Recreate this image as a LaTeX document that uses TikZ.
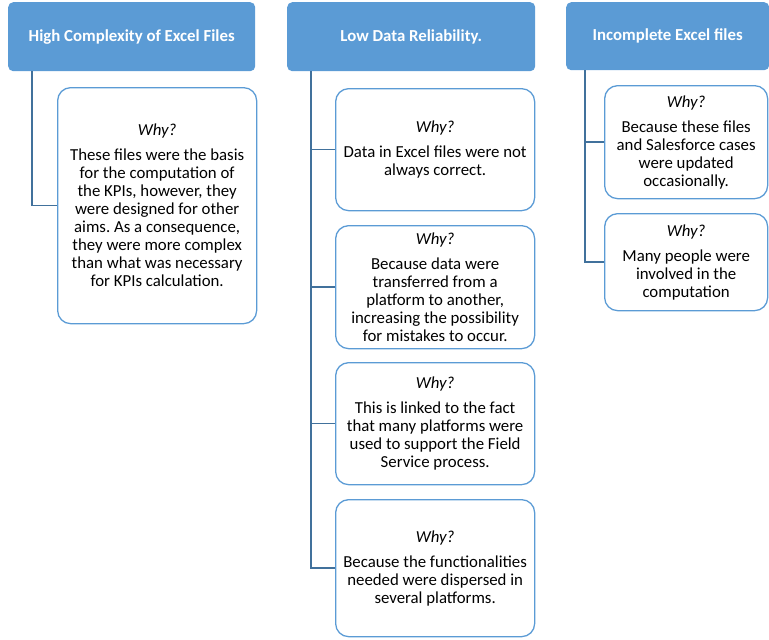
\documentclass[tikz,border=0pt]{standalone}
\usepackage{fontspec}
\setmainfont{Carlito}
\usepackage{tikz}
\usetikzlibrary{positioning}
\frenchspacing

\definecolor{hdrblue}{HTML}{5B9BD5}
\definecolor{linkblue}{HTML}{41719C}

\tikzset{
  header/.style={rectangle, rounded corners=5pt, fill=hdrblue, text=white,
    font=\fontsize{16.8}{18}\selectfont\bfseries, align=center,
    anchor=north west, minimum height=69pt, inner sep=0pt},
  whybox/.style={rectangle, draw=hdrblue, line width=1.3pt, rounded corners=13pt,
    font=\fontsize{16.8}{18}\selectfont, align=center, anchor=north west,
    inner sep=0pt},
  link/.style={draw=linkblue, line width=1.6pt}
}

\newcommand{\why}{\textit{Why?}\\[7pt]}

\begin{document}
\begin{tikzpicture}[x=1pt,y=-1pt]
    \useasboundingbox (0,0) rectangle (769,640);

    % Headers
    \node[header, minimum width=247pt] (h1) at (8,2) {High Complexity of Excel Files};
    \node[header, minimum width=248pt] (h2) at (287,2) {Low Data Reliability.};
    \node[header, minimum width=203pt, minimum height=68pt] (h3) at (566,2) {Incomplete Excel files};

    % First column
    \node[whybox, minimum width=199pt, minimum height=236pt] (w1) at (57,87)
      {\why These files were the basis\\for the computation of\\the KPIs, however, they\\were designed for other\\aims. As a consequence,\\they were more complex\\than what was necessary\\for KPIs calculation.};

    % Second column
    \node[whybox, minimum width=199pt, minimum height=122pt] (w2a) at (335,88)
      {\why Data in Excel files were not\\always correct.};
    \node[whybox, minimum width=199pt, minimum height=123pt] (w2b) at (335,225)
      {\why Because data were\\transferred from a\\platform to another,\\increasing the possibility\\for mistakes to occur.};
    \node[whybox, minimum width=199pt, minimum height=122pt] (w2c) at (335,362)
      {\why This is linked to the fact\\that many platforms were\\used to support the Field\\Service process.};
    \node[whybox, minimum width=199pt, minimum height=137pt] (w2d) at (335,499)
      {\why Because the functionalities\\needed were dispersed in\\several platforms.};

    % Third column
    \node[whybox, minimum width=163pt, minimum height=113pt] (w3a) at (604,85)
      {\why Because these files\\and Salesforce cases\\were updated\\occasionally.};
    \node[whybox, minimum width=163pt, minimum height=97pt] (w3b) at (604,213)
      {\why Many people were\\involved in the\\computation};

    % Connectors
    \draw[link] ([xshift=24pt]h1.south west) |- (w1.west);
    \foreach \b in {w2a,w2b,w2c,w2d}
      \draw[link] ([xshift=24pt]h2.south west) |- (\b.west);
    \foreach \b in {w3a,w3b}
      \draw[link] ([xshift=19pt]h3.south west) |- (\b.west);
\end{tikzpicture}
\end{document}
